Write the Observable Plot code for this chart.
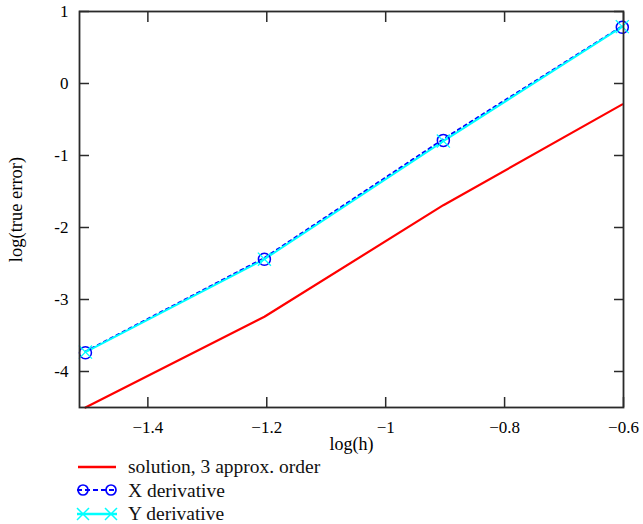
<!DOCTYPE html>
<html>
<head>
<meta charset="utf-8">
<script src="https://cdn.jsdelivr.net/npm/d3@7"></script>
<script src="https://cdn.jsdelivr.net/npm/@observablehq/plot@0.6"></script>
<style>
  html, body { margin: 0; padding: 0; background: #fff; }
  body { width: 643px; height: 524px; overflow: hidden; font-family: "Liberation Serif", Tinos, "Times New Roman", "DejaVu Serif", serif; }
  #legend { position: relative; margin: 0; padding: 0; font-size: 19.5px; color: #111; }
  .row { height: 23.5px; display: flex; align-items: center; }
  .row svg { margin-left: 76px; width: 42px; height: 16px; overflow: visible; }
  .row span { margin-left: 10px; line-height: 23px; }
  svg text { font-family: "Liberation Serif", Tinos, "Times New Roman", "DejaVu Serif", serif; }
</style>
</head>
<body>
<div id="chart"></div>
<div id="legend"></div>
<script>
// ---- data ----
const logH        = [-1.505, -1.204, -0.903, -0.602];
const solution    = [-4.50, -3.24, -1.69, -0.29];
const xDerivative = [-3.74, -2.44, -0.79, 0.78];
const yDerivative = [-3.73, -2.44, -0.80, 0.79];

const xTicks      = [-1.4, -1.2, -1, -0.8, -0.6];
const xTickLabels = ["\u22121.4", "\u22121.2", "\u22121", "\u22120.8", "\u22120.6"];
const yTicks      = [1, 0, -1, -2, -3, -4];
const yTickLabels = ["1", "0", "-1", "-2", "-3", "-4"];

const seriesNames = ["solution, 3 approx. order", "X derivative", "Y derivative"];
const xLabel = "log(h)";
const yLabel = "log(true error)";

const rows = logH.map((x, i) => ({x, sol: solution[i], dx: xDerivative[i], dy: yDerivative[i]}));

const serif = "'Liberation Serif', Tinos, 'Times New Roman', 'DejaVu Serif', serif";
const axisColor = "#2a2a2a";
const xFmt = d => xTickLabels[xTicks.indexOf(d)];
const yFmt = d => yTickLabels[yTicks.indexOf(d)];

const chart = Plot.plot({
  width: 643,
  height: 455,
  marginLeft: 79,
  marginRight: 20,
  marginTop: 11,
  marginBottom: 48,
  style: {fontFamily: serif, fontSize: "17px", background: "#fff", color: "#000", overflow: "visible"},
  x: {domain: [-1.515, -0.6]},
  y: {domain: [-4.5, 1]},
  marks: [
    // tick labels
    Plot.axisX(xTicks, {anchor: "bottom", tickSize: 0, tickPadding: 13, tickFormat: xFmt, label: null, fill: "#000", fontSize: 17, fontFamily: serif}),
    Plot.axisY(yTicks, {anchor: "left", tickSize: 0, tickPadding: 11, tickFormat: yFmt, label: null, fill: "#000", fontSize: 17, fontFamily: serif}),
    // inward ticks on all four sides
    Plot.axisX(xTicks, {anchor: "bottom", tickSize: -10, tickFormat: () => "", label: null, stroke: axisColor, strokeWidth: 1.5}),
    Plot.axisX(xTicks, {anchor: "top", tickSize: -10, tickFormat: () => "", label: null, stroke: axisColor, strokeWidth: 1.5}),
    Plot.axisY(yTicks, {anchor: "left", tickSize: -10, tickFormat: () => "", label: null, stroke: axisColor, strokeWidth: 1.5}),
    Plot.axisY(yTicks, {anchor: "right", tickSize: -10, tickFormat: () => "", label: null, stroke: axisColor, strokeWidth: 1.5}),
    // axis titles
    Plot.text([xLabel], {frameAnchor: "bottom", dy: 30, lineAnchor: "top", textAnchor: "middle", text: d => d, fill: "#000", fontSize: 18, fontFamily: serif}),
    Plot.text([yLabel], {frameAnchor: "left", dx: -63, rotate: -90, lineAnchor: "middle", textAnchor: "middle", text: d => d, fill: "#000", fontSize: 18.5, fontFamily: serif}),
    // series
    Plot.line(rows, {x: "x", y: "sol", stroke: "#ff0000", strokeWidth: 2.2}),
    Plot.line(rows, {x: "x", y: "dx", stroke: "#0000ff", strokeWidth: 2, strokeDasharray: "3,4", dy: -1.2}),
    Plot.line(rows, {x: "x", y: "dy", stroke: "#00ffff", strokeWidth: 2}),
    Plot.dot(rows, {x: "x", y: "dx", r: 6, stroke: "#0000ff", strokeWidth: 1.5, fill: "none"}),
    Plot.dot(rows, {x: "x", y: "dy", r: 6, symbol: "times", stroke: "#00ffff", strokeWidth: 1.3}),
    Plot.frame({stroke: axisColor, strokeWidth: 1.8})
  ]
});
document.getElementById("chart").appendChild(chart);

// legend below the plot
const legend = d3.select("#legend").style("padding-top", "0px");
const swatches = [
  g => { g.append("line").attr("x1", 2).attr("x2", 40).attr("y1", 8).attr("y2", 8).attr("stroke", "#ff0000").attr("stroke-width", 2.5); },
  g => {
    g.append("line").attr("x1", 1).attr("x2", 41).attr("y1", 8).attr("y2", 8).attr("stroke", "#0000ff").attr("stroke-width", 2).attr("stroke-dasharray", "5,3");
    [7, 35].forEach(cx => g.append("circle").attr("cx", cx).attr("cy", 8).attr("r", 5).attr("fill", "none").attr("stroke", "#0000ff").attr("stroke-width", 1.7));
  },
  g => {
    g.append("line").attr("x1", 1).attr("x2", 41).attr("y1", 8).attr("y2", 8).attr("stroke", "#00ffff").attr("stroke-width", 2.5);
    [7, 35].forEach(cx => {
      g.append("line").attr("x1", cx - 6).attr("x2", cx + 6).attr("y1", 2).attr("y2", 14).attr("stroke", "#00ffff").attr("stroke-width", 1.5);
      g.append("line").attr("x1", cx - 6).attr("x2", cx + 6).attr("y1", 14).attr("y2", 2).attr("stroke", "#00ffff").attr("stroke-width", 1.5);
    });
  }
];
seriesNames.forEach((name, i) => {
  const row = legend.append("div").attr("class", "row");
  const svg = row.append("svg").attr("viewBox", "0 0 42 16");
  swatches[i](svg.append("g"));
  row.append("span").text(name);
});
</script>
</body>
</html>
